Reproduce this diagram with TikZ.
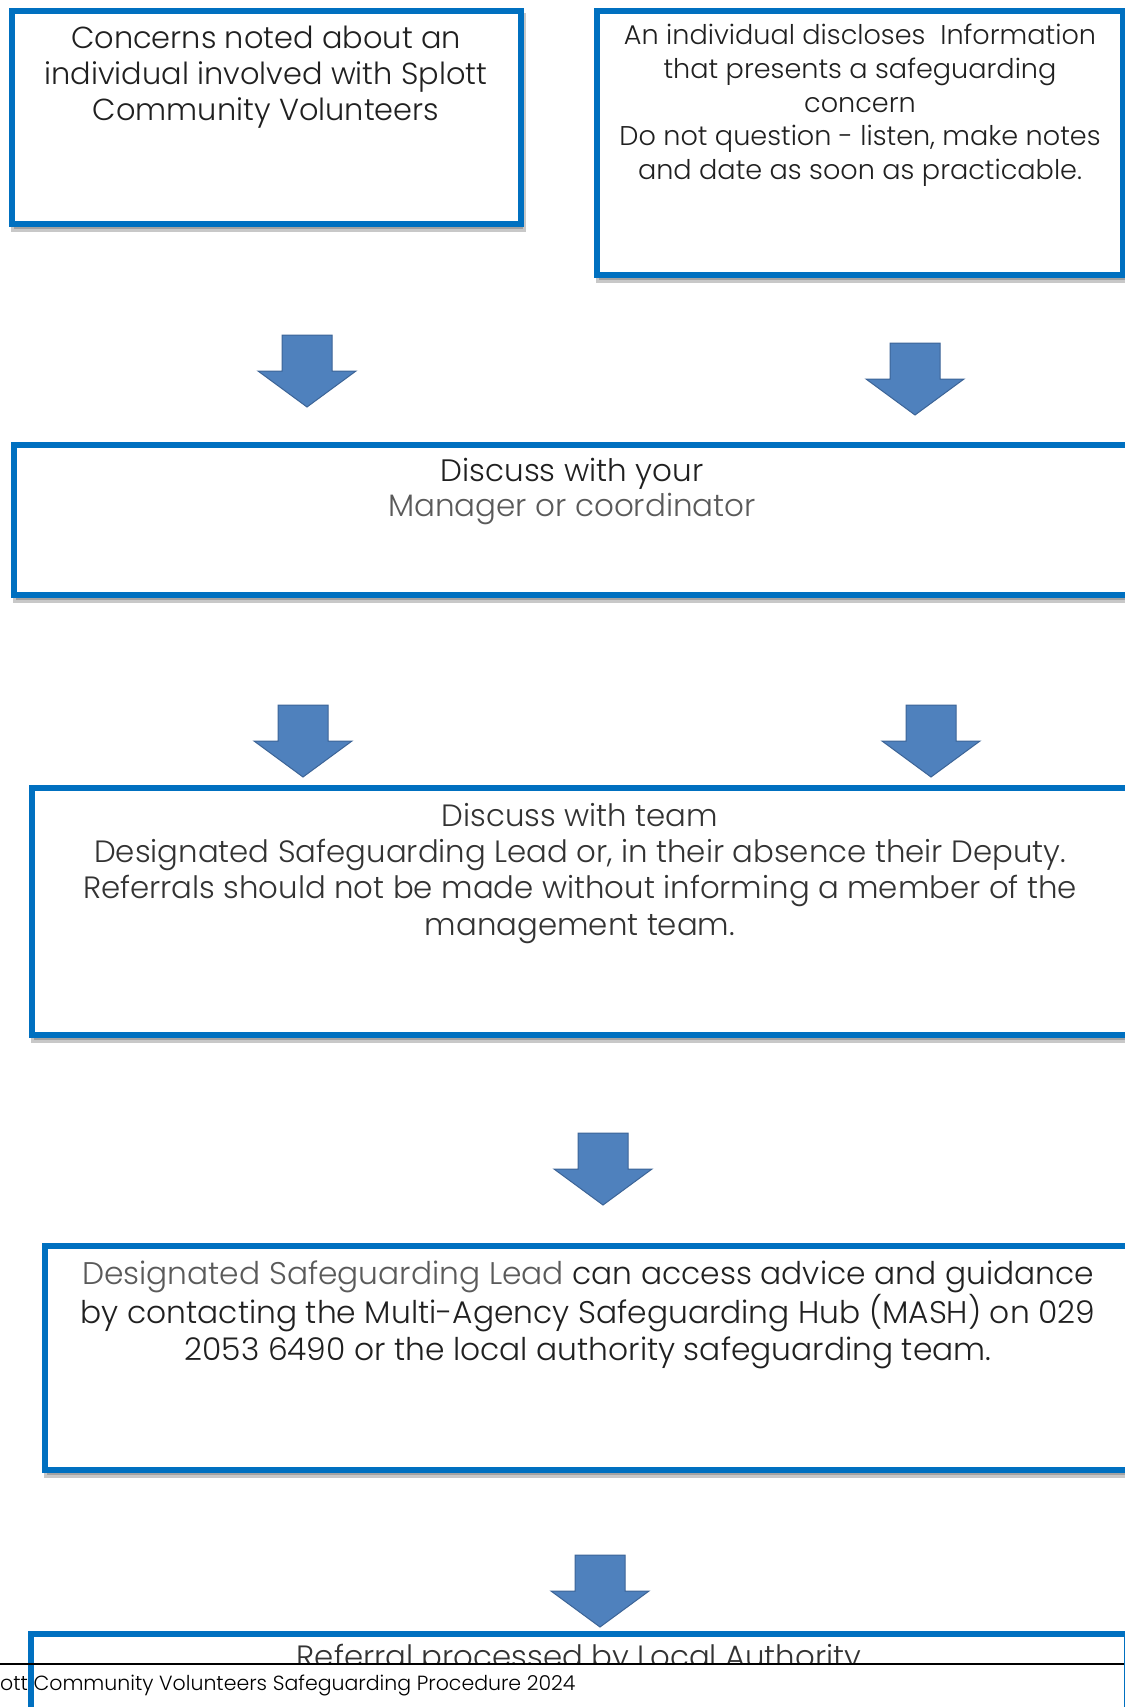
\documentclass[tikz,border=0pt]{standalone}
\usepackage{fontspec}
\setmainfont{Poppins Light}
\usetikzlibrary{shadows}
\definecolor{boxblue}{HTML}{0070C0}
\definecolor{arrowblue}{HTML}{4F81BD}
\definecolor{arrowedge}{HTML}{3C6497}
\definecolor{txtdark}{HTML}{202020}
\definecolor{txtmid}{HTML}{333333}
\definecolor{txtlight}{HTML}{5A5A5A}
\tikzset{
  box/.style={draw=boxblue, line width=6pt, fill=white, inner sep=0pt,
    drop shadow={shadow xshift=2pt, shadow yshift=-5pt, opacity=0.3, fill=black!70, draw=black!70, line width=6pt}},
  txt/.style={inner sep=0pt, align=center, anchor=north, text=txtmid},
  blockarrow/.pic={\filldraw[fill=arrowblue, draw=arrowedge, line width=1pt]
    (-25,0) -- (25,0) -- (25,36) -- (49,36) -- (0,72) -- (-49,36) -- (-25,36) -- cycle;}
}
\begin{document}
\begin{tikzpicture}[x=1pt,y=-1pt]
\useasboundingbox (0,0) rectangle (1124,1707);
\fill[white] (0,0) rectangle (1124,1707);
% boxes
\node[box, minimum width=509, minimum height=213] (b1) at (266.5,117.5) {};
\node[box, minimum width=526, minimum height=263.5] (b2) at (860,143.25) {};
\node[box, minimum width=1117, minimum height=150] (b3) at (572.5,520) {};
\node[box, minimum width=1099, minimum height=247] (b4) at (581.5,911.5) {};
\node[box, minimum width=1087, minimum height=224] (b5) at (588.5,1358) {};
\node[box, minimum width=1096, minimum height=166] (b6) at (579,1717) {};
% texts
\node[txt, text=txtdark, font=\fontsize{30.4}{36}\selectfont] (t1) at (266,26)
  {Concerns noted about an\\individual involved with Splott\\Community Volunteers};
\node[txt, text=txtdark, font=\fontsize{27.1}{33.7}\selectfont] (t2) at (860,24)
  {An individual discloses\ \ Information\\that presents a safeguarding\\concern\\Do not question - listen, make notes\\and date as soon as practicable.};
\node[txt, font=\fontsize{31}{35}\selectfont] (t3) at (572,458)
  {\textcolor{txtdark}{Discuss with your}\\\textcolor{txtlight}{Manager or coordinator}};
\node[txt, font=\fontsize{30.8}{36.3}\selectfont] (t4) at (580,803)
  {Discuss with team\\Designated Safeguarding Lead or, in their absence their Deputy.\\Referrals should not be made without informing a member of the\\management team.};
\node[txt, text=txtdark, font=\fontsize{31.3}{37}\selectfont] (t5) at (588,1261)
  {\textcolor{txtlight}{Designated Safeguarding Lead} can access advice and guidance\\by contacting the Multi-Agency Safeguarding Hub (MASH) on 029\\2053 6490 or the local authority safeguarding team.};
\begin{scope}
\clip (0,0) rectangle (1124,1664);
\node[txt, font=\fontsize{30.8}{34}\selectfont] (t6) at (579,1644) {Referral processed by Local Authority};
\end{scope}
% block arrows
\pic (a1) at (307,335) {blockarrow};
\pic (a2) at (915,343) {blockarrow};
\pic (a3) at (303,705) {blockarrow};
\pic (a4) at (931,705) {blockarrow};
\pic (a5) at (603,1133) {blockarrow};
\pic (a6) at (600,1555) {blockarrow};
% footer
\coordinate (fl) at (0,1664);
\coordinate (fr) at (1124,1664);
\draw[line width=2pt, black] (fl) -- (fr);
\node[inner sep=0pt, anchor=north west, font=\fontsize{20.5}{25}\selectfont, text=black] (foot) at (0,1675)
  {ott Community Volunteers Safeguarding Procedure 2024};
\end{tikzpicture}
\end{document}
